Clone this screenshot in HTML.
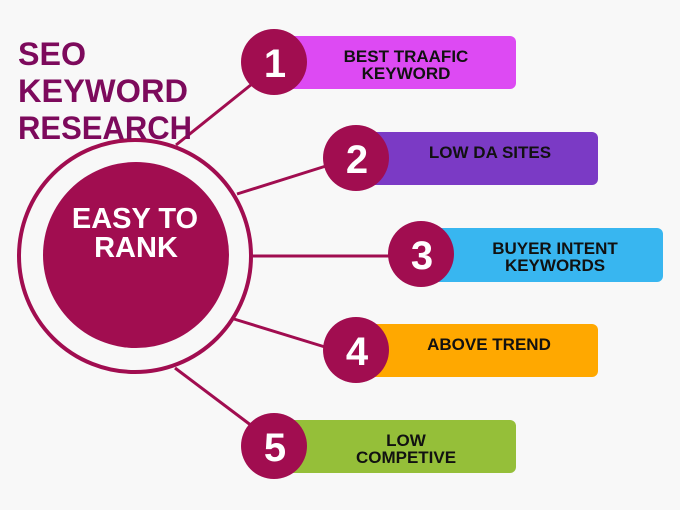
<!DOCTYPE html>
<html><head><meta charset="utf-8"><style>
html,body{margin:0;padding:0;background:#f8f8f8;}
svg{display:block;font-family:"Liberation Sans",sans-serif;font-weight:bold;}
</style></head><body>
<svg width="680" height="510" viewBox="0 0 680 510" xmlns="http://www.w3.org/2000/svg">
<rect width="680" height="510" fill="#f8f8f8"/>
<g stroke="#a10d50" stroke-width="3" fill="none">
<line x1="176" y1="145" x2="252" y2="84"/>
<line x1="237" y1="194" x2="326" y2="166"/>
<line x1="253" y1="256" x2="392" y2="256"/>
<line x1="234" y1="319" x2="325" y2="347"/>
<line x1="175" y1="368" x2="252" y2="426"/>
<circle cx="135" cy="256" r="116" stroke-width="4"/>
</g>
<circle cx="136" cy="255" r="93" fill="#a10d50"/>
<g fill="#7d0a5c" font-size="32">
<text x="18" y="65" textLength="68" lengthAdjust="spacingAndGlyphs">SEO</text>
<text x="18" y="102" textLength="170" lengthAdjust="spacingAndGlyphs">KEYWORD</text>
<text x="18" y="139" textLength="174" lengthAdjust="spacingAndGlyphs">RESEARCH</text>
</g>
<g fill="#fff" font-size="29" text-anchor="middle">
<text x="135" y="228">EASY TO</text>
<text x="136" y="257">RANK</text>
</g>
<rect x="285" y="36" width="231" height="53" rx="6" fill="#dd4af3"/>
<rect x="367" y="132" width="231" height="53" rx="6" fill="#7b3ac5"/>
<rect x="432" y="228" width="231" height="54" rx="6" fill="#38b6f0"/>
<rect x="367" y="324" width="231" height="53" rx="6" fill="#ffa800"/>
<rect x="285" y="420" width="231" height="53" rx="6" fill="#95bf39"/>
<g fill="#a10d50">
<circle cx="274" cy="62" r="33"/>
<circle cx="356" cy="158" r="33"/>
<circle cx="421" cy="254" r="33"/>
<circle cx="356" cy="350" r="33"/>
<circle cx="274" cy="446" r="33"/>
</g>
<g fill="#fff" font-size="40" text-anchor="middle">
<text x="275" y="77">1</text>
<text x="357" y="173">2</text>
<text x="422" y="269">3</text>
<text x="357" y="365">4</text>
<text x="275" y="461">5</text>
</g>
<g fill="#111" font-size="17" text-anchor="middle">
<text x="406" y="62">BEST TRAAFIC</text>
<text x="406" y="79">KEYWORD</text>
<text x="490" y="158">LOW DA SITES</text>
<text x="555" y="254">BUYER INTENT</text>
<text x="555" y="271">KEYWORDS</text>
<text x="489" y="350">ABOVE TREND</text>
<text x="406" y="446">LOW</text>
<text x="406" y="463">COMPETIVE</text>
</g>
</svg>
</body></html>
